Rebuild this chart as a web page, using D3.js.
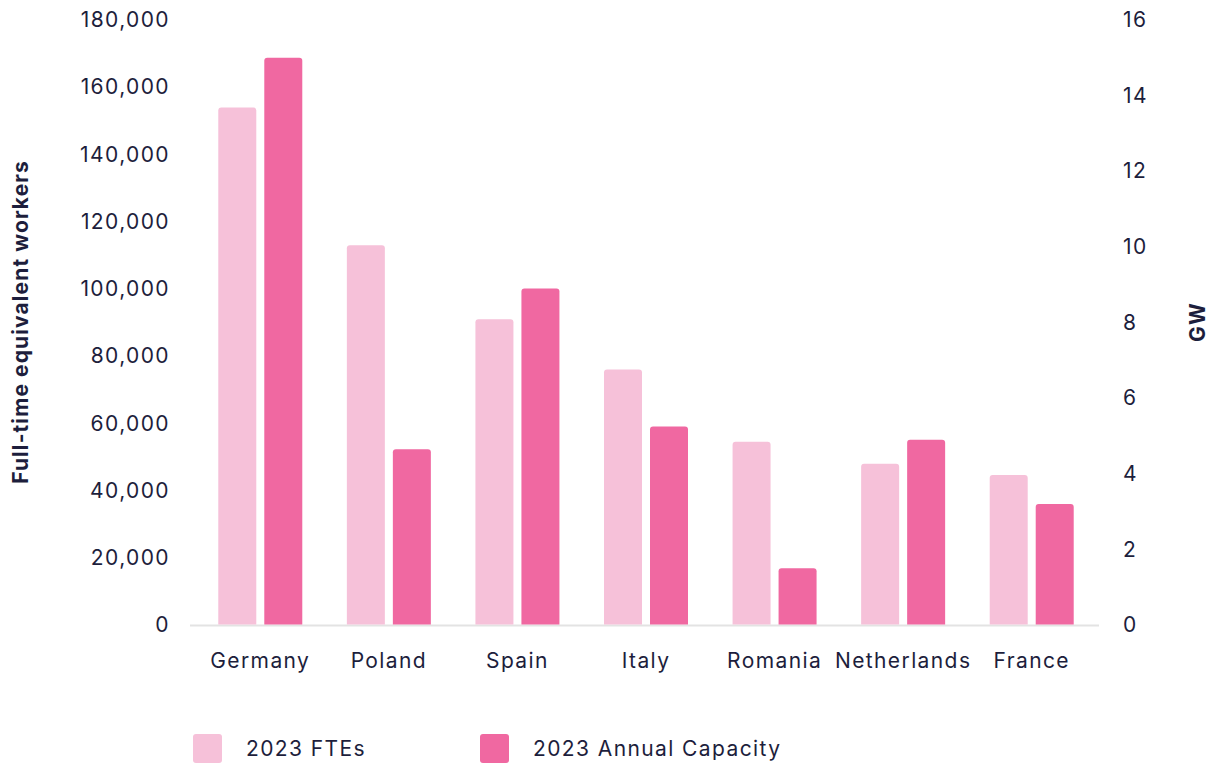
<!DOCTYPE html>
<html>
<head>
<meta charset="utf-8">
<script src="https://cdn.jsdelivr.net/npm/d3@7"></script>
<style>
  html, body { margin: 0; padding: 0; background: #ffffff; }
  svg { display: block; font-family: Inter, "Noto Sans", sans-serif; }
  .lbl { font-size: 21px; letter-spacing: 1.4px; font-family: Inter, sans-serif; }
</style>
</head>
<body>
<svg id="chart" width="1213" height="763"></svg>
<script>
// Countries and their 2023 figures
const countries = ["Germany", "Poland", "Spain", "Italy", "Romania", "Netherlands", "France"];
const fteValues = [154000, 113000, 91000, 76000, 54500, 48000, 44600];      // full-time equivalent workers
const capacityValues = [15.0, 4.65, 8.9, 5.25, 1.5, 4.9, 3.2];               // annual capacity, GW
const leftTicks = [0, 20000, 40000, 60000, 80000, 100000, 120000, 140000, 160000, 180000];
const rightTicks = [0, 2, 4, 6, 8, 10, 12, 14, 16];
const seriesNames = ["2023 FTEs", "2023 Annual Capacity"];

const colors = { fte: "#f6c1d9", cap: "#f068a1", text: "#1d1e3c", base: "#e3e3e3" };

const svg = d3.select("#chart");
const margin = { left: 196, right: 117, top: 20, bottom: 138 };
const W = 1213, H = 763;
const plotBottom = H - margin.bottom;   // 625

const x = d3.scaleBand().domain(countries).range([margin.left, W - margin.right]).paddingInner(0).paddingOuter(0);
const yL = d3.scaleLinear().domain([0, 180000]).range([plotBottom, margin.top]);
const yR = d3.scaleLinear().domain([0, 16]).range([plotBottom, margin.top]);

const barW = 38, gap = 8;

// Baseline
svg.append("line")
  .attr("x1", 190).attr("x2", 1099)
  .attr("y1", plotBottom + 0.5).attr("y2", plotBottom + 0.5)
  .attr("stroke", colors.base).attr("stroke-width", 2);

// Bar with slightly rounded top corners
function barPath(x0, w, yTop, yBase, r) {
  r = Math.min(r, (yBase - yTop) / 2);
  return `M${x0},${yBase}V${yTop + r}Q${x0},${yTop} ${x0 + r},${yTop}H${x0 + w - r}Q${x0 + w},${yTop} ${x0 + w},${yTop + r}V${yBase}Z`;
}

const groups = svg.append("g").selectAll("g").data(countries).join("g");
groups.append("path")
  .attr("fill", colors.fte)
  .attr("d", (d, i) => {
    const cx = x(d) + x.bandwidth() / 2;
    return barPath(cx - gap / 2 - barW, barW, yL(fteValues[i]), plotBottom - 0.5, 3);
  });
groups.append("path")
  .attr("fill", colors.cap)
  .attr("d", (d, i) => {
    const cx = x(d) + x.bandwidth() / 2;
    return barPath(cx + gap / 2, barW, yR(capacityValues[i]), plotBottom - 0.5, 3);
  });

// Left axis
const fmt = d3.format(",");
const axL = svg.append("g").attr("transform", `translate(170,0)`)
  .call(d3.axisLeft(yL).tickValues(leftTicks).tickFormat(fmt).tickSize(0).tickPadding(0));
axL.select(".domain").remove();
axL.selectAll("text").attr("class", "lbl").attr("fill", colors.text);

// Right axis
const axR = svg.append("g").attr("transform", `translate(1123,0)`)
  .call(d3.axisRight(yR).tickValues(rightTicks).tickSize(0).tickPadding(0));
axR.select(".domain").remove();
axR.selectAll("text").attr("class", "lbl").attr("fill", colors.text);

// Category axis
const axB = svg.append("g").attr("transform", `translate(0,${plotBottom})`)
  .call(d3.axisBottom(x).tickSize(0).tickPadding(28));
axB.select(".domain").remove();
axB.selectAll("text").attr("class", "lbl").attr("fill", colors.text);

// Axis titles
svg.append("text")
  .attr("transform", `translate(28,322) rotate(-90)`)
  .attr("text-anchor", "middle")
  .attr("fill", colors.text).style("font-size", "21px").style("font-weight", "700").style("letter-spacing", "1.1px")
  .text("Full-time equivalent workers");
svg.append("text")
  .attr("transform", `translate(1205,322) rotate(-90)`)
  .attr("text-anchor", "middle")
  .attr("fill", colors.text).style("font-size", "21px").style("font-weight", "700").style("letter-spacing", "1.1px")
  .text("GW");

// Legend
const legendX = [193, 480];
const legendColors = [colors.fte, colors.cap];
const lg = svg.append("g").selectAll("g").data(seriesNames).join("g")
  .attr("transform", (d, i) => `translate(${legendX[i]},734)`);
lg.append("rect").attr("width", 29).attr("height", 29).attr("rx", 3).attr("fill", (d, i) => legendColors[i]);
lg.append("text").attr("class", "lbl").attr("x", 53).attr("y", 15).attr("dy", "0.35em")
  .attr("fill", colors.text)
  .text(d => d);
</script>
</body>
</html>
